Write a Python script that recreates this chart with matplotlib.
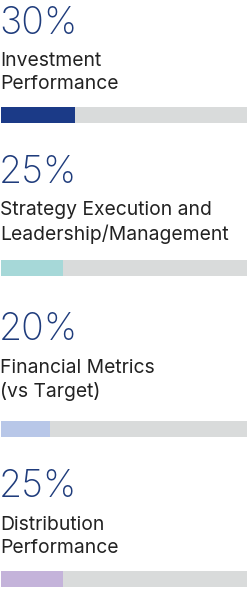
import matplotlib.pyplot as plt

# Données
percents = [30, 25, 20, 25]
labels = ['Investment\nPerformance',
          'Strategy Execution and\nLeadership/Management',
          'Financial Metrics\n(vs Target)',
          'Distribution\nPerformance']
bar_colors = ['#1b3a87', '#a6d8d8', '#b8c7e8', '#c4b3da']

# positions (pixels depuis le haut) : ligne de base du %, ligne de base de la 2e ligne du texte, haut de la barre
pct_base = [34, 183, 340, 497]
lab_base = [89, 240, 397, 553]
bar_top = [107, 260, 421, 571]
bar_h = 16

W, H = 248, 590
fig = plt.figure(figsize=(W / 100, H / 100), dpi=100)
plt.rcParams['font.family'] = ['Inter', 'DejaVu Sans']

for i in range(len(percents)):
    fig.text(-1 / W, 1 - pct_base[i] / H, f'{percents[i]}%', fontsize=27,
             color='#1f3c7c', va='baseline', ha='left', fontweight='light')
    fig.text(0 / W, 1 - lab_base[i] / H, labels[i], fontsize=13.9, color='#222222',
             va='baseline', ha='left', linespacing=1.36)
    ax = fig.add_axes([1 / W, 1 - (bar_top[i] + bar_h) / H, 246 / W, bar_h / H])
    ax.barh(0, 100, height=1, color='#d9dbdb')
    ax.barh(0, percents[i], height=1, color=bar_colors[i])
    ax.set_xlim(0, 100)
    ax.set_ylim(-0.5, 0.5)
    ax.axis('off')

fig.savefig('out.png', dpi=100)
